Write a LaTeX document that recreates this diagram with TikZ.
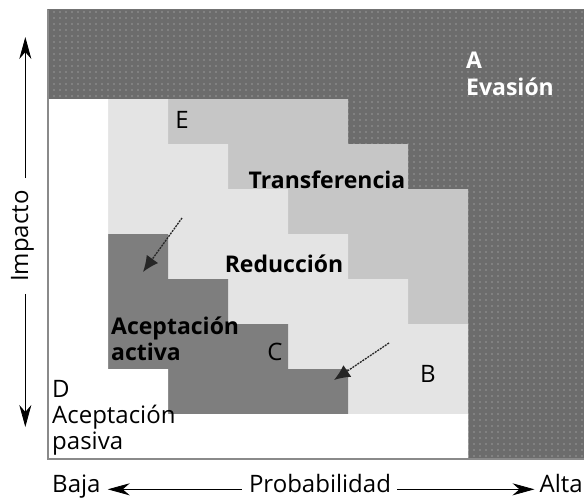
\documentclass[tikz,border=0pt]{standalone}
\usepackage{fontspec}
\setmainfont{Open Sans}
\usetikzlibrary{arrows.meta,patterns.meta}
\definecolor{evasion}{HTML}{6C6C6C}
\definecolor{evadot}{HTML}{989898}
\definecolor{transfer}{HTML}{C6C6C6}
\definecolor{reduce}{HTML}{E4E4E4}
\definecolor{active}{HTML}{7E7E7E}
\definecolor{edgegray}{HTML}{8A8A8A}

\begin{document}
\begin{tikzpicture}[x=1pt,y=-1pt,
  txt/.style={font=\fontsize{24}{28}\selectfont, inner sep=0pt},
  bold/.style={inner sep=0pt, font=\fontsize{23}{27}\selectfont\bfseries},
  pointer/.style={-{Latex[length=16pt,width=14pt]}, line width=1.3pt, dash pattern=on 2pt off 1pt, black!85},
  axis/.style={-{Stealth[length=22pt,width=12pt,inset=7pt]}, line width=0.8pt}]
  \useasboundingbox (0,0) rectangle (584,498);
  % zonas de la matriz
  \fill[evasion, postaction={pattern={Dots[distance=6pt, radius=0.8pt]}, pattern color=evadot}]
    (48,9) rectangle (584,459);
  \fill[transfer] (48,99) -- (348,99) -- (348,144) -- (408,144) -- (408,189) -- (468,189)
    -- (468,459) -- (48,459) -- cycle;
  \fill[reduce] (48,99) -- (168,99) -- (168,144) -- (228,144) -- (228,189) -- (288,189)
    -- (288,234) -- (348,234) -- (348,279) -- (408,279) -- (408,324) -- (468,324)
    -- (468,459) -- (48,459) -- cycle;
  \fill[active] (108,234) -- (168,234) -- (168,279) -- (228,279) -- (228,324) -- (288,324)
    -- (288,369) -- (348,369) -- (348,414) -- (168,414) -- (168,369) -- (108,369) -- cycle;
  \fill[white] (48,99) -- (108,99) -- (108,369) -- (168,369) -- (168,414) -- (468,414)
    -- (468,459) -- (48,459) -- cycle;
  \draw[edgegray, line width=1.5pt] (584,459) -- (48,459) -- (48,9);
  \draw[black!55, line width=1pt] (48,9) -- (584,9);
  % etiquetas
  \node[bold, white, anchor=base west] (zonaA) at (466,68) {A};
  \node[bold, white, anchor=base west] (evasion) at (466,95) {Evasión};
  \node[txt, anchor=base] (zonaE) at (182,128) {E};
  \node[bold, anchor=base] (transf) at (327,188) {Transferencia};
  \node[bold, anchor=base] (reduc) at (284,272) {Reducción};
  \node[bold, anchor=base west] (acepA) at (111,334) {Aceptación};
  \node[bold, anchor=base west] (activa) at (111,360) {activa};
  \node[txt, anchor=base] (zonaC) at (275,360) {C};
  \node[txt, anchor=base] (zonaB) at (428,382) {B};
  \node[txt, anchor=base west] (zonaD) at (52,397) {D};
  \node[txt, anchor=base west] (acepP) at (52,423) {Aceptación};
  \node[txt, anchor=base west] (pasiva) at (52,449) {pasiva};
  % flechas de desplazamiento
  \coordinate (from1) at (182,218);
  \coordinate (to1) at (143,272);
  \coordinate (from2) at (389,343);
  \coordinate (to2) at (334,380);
  \draw[pointer] (from1) -- (to1);
  \draw[pointer] (from2) -- (to2);
  % ejes
  \node[txt, rotate=90, anchor=base] (impacto) at (28,236) {Impacto};
  \coordinate (imptop) at (0,37);
  \coordinate (impbot) at (0,427);
  \draw[axis] ([yshift=12pt]impacto.mid east) -- (impacto.mid east |- imptop);
  \draw[axis] ([yshift=-12pt]impacto.mid west) -- (impacto.mid west |- impbot);
  \node[txt, anchor=base west] (baja) at (52,492) {Baja};
  \node[txt, anchor=base] (prob) at (320,492) {Probabilidad};
  \node[txt, anchor=base east] (alta) at (583,492) {Alta};
  \draw[axis] ([xshift=-7pt]prob.mid west) -- ([xshift=7pt]baja.mid east);
  \draw[axis] ([xshift=6pt]prob.mid east) -- ([xshift=-5pt]alta.mid west);
\end{tikzpicture}
\end{document}
